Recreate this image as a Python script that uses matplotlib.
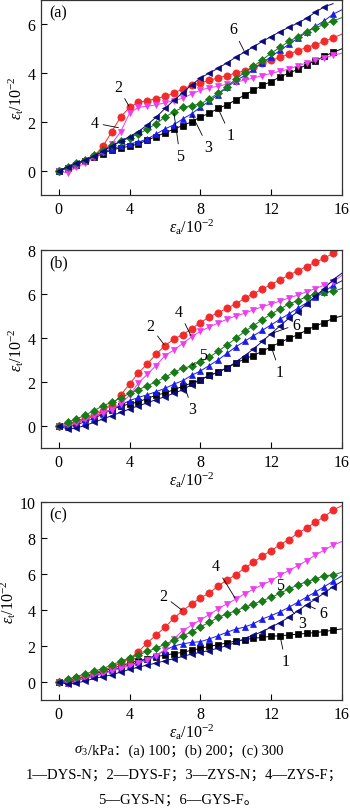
import numpy as np
import matplotlib
matplotlib.use('Agg')
import matplotlib.pyplot as plt

plt.rcParams['font.family'] = ['Liberation Serif', 'Noto Sans CJK SC']
plt.rcParams['mathtext.fontset'] = 'custom'
plt.rcParams['mathtext.rm'] = 'Liberation Serif'
plt.rcParams['mathtext.it'] = 'Liberation Serif:italic'

# axial strain, one reading every 0.5 (x 10^-2)
x = np.arange(0, 16.5, 0.5)

# (a) sigma3 = 100 kPa
a_dys_n = [0, 0.1, 0.25, 0.4, 0.55, 0.7, 0.85, 0.93, 1.0, 1.1, 1.25, 1.4, 1.55, 1.7, 1.85, 2.0, 2.2,
           2.35, 2.55, 2.7, 2.9, 3.1, 3.3, 3.5, 3.65, 3.85, 4.0, 4.15, 4.35, 4.5, 4.7, 4.85, 5.0]
a_dys_f = [0, 0.1, 0.25, 0.4, 0.6, 1.0, 1.6, 2.2, 2.6, 2.8, 2.87, 2.95, 3.05, 3.17, 3.35, 3.5, 3.6,
           3.7, 3.8, 3.9, 4.0, 4.1, 4.25, 4.4, 4.52, 4.65, 4.78, 4.92, 5.05, 5.17, 5.3, 5.45, 5.6]
a_zys_n = [0, 0.1, 0.25, 0.42, 0.6, 0.75, 0.9, 1.0, 1.1, 1.17, 1.3, 1.5, 1.71, 1.88, 2.12, 2.33, 2.6,
           2.85, 3.12, 3.42, 3.69, 3.9, 4.15, 4.42, 4.68, 4.93, 5.18, 5.43, 5.68, 5.92, 6.15, 6.42, 6.6]
a_zys_f = [0, -0.1, 0.15, 0.3, 0.55, 0.75, 1.1, 1.6, 2.35, 2.6, 2.64, 2.7, 2.78, 2.87, 2.97, 3.14, 3.3,
           3.4, 3.46, 3.55, 3.62, 3.72, 3.8, 3.9, 3.99, 4.08, 4.16, 4.3, 4.42, 4.52, 4.63, 4.73, 4.82]
a_gys_n = [0, 0.15, 0.3, 0.45, 0.65, 0.85, 1.05, 1.2, 1.35, 1.5, 1.7, 1.92, 2.2, 2.4, 2.6, 2.67, 2.73,
           2.94, 3.17, 3.44, 3.76, 4.02, 4.28, 4.55, 4.82, 5.06, 5.3, 5.5, 5.7, 5.86, 6.0, 6.14, 6.28]
a_gys_f = [0, 0.15, 0.3, 0.45, 0.6, 0.8, 1.0, 1.2, 1.4, 1.6, 1.88, 2.19, 2.55, 2.88, 3.2, 3.51, 3.8,
           4.0, 4.2, 4.42, 4.65, 4.87, 5.08, 5.3, 5.5, 5.7, 5.88, 6.05, 6.25, 6.5, 6.72, 6.85]

# (b) sigma3 = 200 kPa
b_dys_n = [0, 0.05, 0.15, 0.3, 0.45, 0.6, 0.75, 0.9, 1.0, 1.1, 1.25, 1.4, 1.5, 1.65, 1.8, 1.95, 2.1,
           2.3, 2.45, 2.65, 2.85, 3.05, 3.2, 3.4, 3.6, 3.8, 3.98, 4.15, 4.35, 4.55, 4.7, 4.9, 5.0]
b_dys_f = [0, 0.05, 0.2, 0.35, 0.5, 0.7, 0.95, 1.4, 1.91, 2.41, 2.82, 3.27, 3.65, 3.95, 4.15, 4.42, 4.7,
           4.95, 5.15, 5.35, 5.55, 5.8, 6.02, 6.22, 6.43, 6.65, 6.86, 7.05, 7.25, 7.45, 7.62, 7.86, 8.05]
b_zys_n = [0, -0.05, 0.05, 0.2, 0.35, 0.55, 0.75, 0.95, 1.15, 1.3, 1.42, 1.56, 1.71, 1.9, 2.06, 2.3, 2.5,
           2.75, 3.0, 3.3, 3.6, 3.85, 4.1, 4.35, 4.6, 4.85, 5.1, 5.35, 5.6, 5.85, 6.1, 6.4, 6.6]
b_zys_f = [0, 0.05, 0.15, 0.3, 0.45, 0.6, 0.75, 1.0, 1.4, 1.95, 2.35, 2.75, 3.2, 3.45, 3.75, 4.05, 4.3,
           4.5, 4.68, 4.85, 5.0, 5.12, 5.28, 5.42, 5.55, 5.68, 5.82, 5.95, 6.1, 6.25, 6.4, 6.55, 6.85]
b_gys_n = [0, 0.17, 0.32, 0.5, 0.7, 0.92, 1.08, 1.27, 1.48, 1.65, 1.83, 2.01, 2.21, 2.44, 2.62, 2.72, 2.92,
           3.12, 3.4, 3.68, 3.98, 4.3, 4.56, 4.83, 5.09, 5.32, 5.55, 5.7, 5.88, 6.0, 6.08, 6.12, 6.25]
b_gys_f = [0, -0.14, -0.09, 0.02, 0.17, 0.32, 0.47, 0.62, 0.77, 0.92, 1.05, 1.2, 1.33, 1.49, 1.64, 1.88, 2.1,
           2.29, 2.44, 2.64, 2.9, 3.2, 3.5, 3.85, 4.2, 4.55, 4.9, 5.2, 5.55, 5.9, 6.25, 6.65, 6.95]

# (c) sigma3 = 300 kPa
c_dys_n = [0, 0.05, 0.15, 0.3, 0.45, 0.6, 0.75, 0.9, 1.05, 1.19, 1.28, 1.4, 1.5, 1.57, 1.65, 1.76, 1.87,
           1.98, 2.07, 2.17, 2.28, 2.35, 2.43, 2.48, 2.54, 2.57, 2.61, 2.66, 2.7, 2.75, 2.8, 2.88, 2.95]
c_dys_f = [0, 0.05, 0.2, 0.35, 0.5, 0.65, 0.85, 1.05, 1.3, 1.69, 2.17, 2.61, 3.04, 3.54, 3.96, 4.33, 4.67,
           4.94, 5.33, 5.67, 5.96, 6.33, 6.65, 7.0, 7.3, 7.63, 7.91, 8.26, 8.56, 8.87, 9.19, 9.55, 9.8]
c_zys_n = [0, -0.05, 0.08, 0.2, 0.35, 0.5, 0.65, 0.8, 0.95, 1.1, 1.3, 1.5, 1.75, 2.0, 2.12, 2.2, 2.24,
           2.39, 2.57, 2.76, 2.94, 3.05, 3.24, 3.5, 3.69, 3.9, 4.15, 4.43, 4.72, 5.0, 5.3, 5.6, 5.9]
c_zys_f = [0, -0.1, 0.05, 0.2, 0.3, 0.45, 0.6, 0.75, 0.9, 1.05, 1.2, 1.45, 1.8, 2.4, 2.85, 3.15, 3.45,
           3.75, 4.05, 4.35, 4.6, 4.9, 5.15, 5.4, 5.63, 5.94, 6.19, 6.46, 6.74, 7.06, 7.33, 7.61, 7.8]
c_gys_n = [0, 0.15, 0.3, 0.45, 0.6, 0.75, 0.95, 1.15, 1.35, 1.5, 1.7, 1.88, 2.1, 2.31, 2.55, 2.8, 3.07,
           3.31, 3.59, 3.78, 3.96, 4.15, 4.33, 4.52, 4.7, 4.93, 5.17, 5.39, 5.57, 5.72, 5.91, 5.94, 6.1]
c_gys_f = [0, -0.12, -0.05, 0.05, 0.2, 0.3, 0.4, 0.55, 0.7, 0.82, 0.94, 1.05, 1.18, 1.3, 1.42, 1.55, 1.65,
           1.75, 1.88, 2.02, 2.2, 2.4, 2.6, 2.8, 3.05, 3.3, 3.6, 3.95, 4.3, 4.6, 4.95, 5.3, 5.6]

colors = ['#000000', '#f22a2a', '#1a1aee', '#ee3cee', '#1a7a1a', '#0a0a80']
markers = ['s', 'o', '^', 'v', 'D', '<']
sizes = [4.6, 5.2, 5.0, 5.0, 4.2, 5.0]

# curve labels: (text, text position, point)
notes_a = [('6', (9.85, 5.8), (10.5, 4.87)), ('2', (3.35, 3.45), (4.0, 2.6)),
           ('4', (2.05, 1.95), (3.45, 1.75)), ('5', (6.85, 0.6), (6.5, 2.4)),
           ('3', (8.45, 0.95), (7.5, 2.33)), ('1', (9.7, 1.45), (9.0, 2.55))]
notes_b = [('2', (5.15, 4.55), (6.0, 3.65)), ('4', (6.8, 5.2), (7.5, 4.05)),
           ('5', (8.15, 3.25), (7.5, 2.72)), ('6', (13.4, 4.6), (12.0, 4.2)),
           ('1', (12.5, 2.45), (12.0, 3.6)), ('3', (7.55, 0.75), (7.0, 2.06))]
notes_c = [('2', (5.9, 4.8), (7.0, 3.96)), ('4', (8.85, 6.45), (10.0, 4.6)),
           ('5', (12.5, 5.4), (12.0, 4.7)), ('3', (13.75, 3.3), (13.0, 4.15)),
           ('6', (14.95, 3.85), (14.0, 4.3)), ('1', (12.8, 1.15), (12.5, 2.57))]


def draw_panel(ax, series, ymax, tag, notes):
    for y, c, m, s in zip(series, colors, markers, sizes):
        n = len(y)
        ax.plot(x[:n], y, color=c, lw=0.7, marker=m, ms=s, mfc=c, mec=c, mew=0.5,
                markevery=list(range(n - 1)))
    ax.set_xlim(-1, 16)
    ax.set_ylim(-1, ymax)
    ax.set_xticks([0, 4, 8, 12, 16])
    ax.set_yticks(np.arange(0, ymax + 0.1, 2))
    ax.tick_params(direction='in', length=4, width=0.8, labelsize=11.5, pad=4)
    for sp in ax.spines.values():
        sp.set_linewidth(0.9)
        sp.set_color('#333333')
    ax.set_xlabel(r'$\varepsilon_{\rm a}/10^{-2}$', fontsize=11.5, labelpad=0)
    ax.set_ylabel(r'$\varepsilon_{\rm t}/10^{-2}$', fontsize=11.5, labelpad=1)
    ax.text(0.028, 0.935, tag, transform=ax.transAxes, fontsize=11.5, va='center', ha='left')
    for t, xy_t, xy in notes:
        ax.annotate(t, xy=xy, xytext=xy_t, fontsize=11.5, ha='center', va='center',
                    arrowprops=dict(arrowstyle='-', lw=0.6, color='k', shrinkA=1, shrinkB=1))


fig = plt.figure(figsize=(3.5, 8.12), dpi=100)
W, H = 350, 812
ax_a = fig.add_axes([41 / W, 1 - 196 / H, 301 / W, 195 / H])
ax_b = fig.add_axes([41 / W, 1 - 449 / H, 301 / W, 198 / H])
ax_c = fig.add_axes([41 / W, 1 - 701 / H, 301 / W, 198 / H])

draw_panel(ax_a, [a_dys_n, a_dys_f, a_zys_n, a_zys_f, a_gys_n, a_gys_f], 7, '(a)', notes_a)
draw_panel(ax_b, [b_dys_n, b_dys_f, b_zys_n, b_zys_f, b_gys_n, b_gys_f], 8, '(b)', notes_b)
draw_panel(ax_c, [c_dys_n, c_dys_f, c_zys_n, c_zys_f, c_gys_n, c_gys_f], 10, '(c)', notes_c)

# caption under the figure
fs = 10.5
fig.text(88 / W, 1 - 751 / H, r'$\sigma_3$', ha='right', va='center', fontsize=fs)
fig.text(88 / W, 1 - 751 / H, '/kPa：(a) 100；(b) 200；(c) 300', ha='left', va='center', fontsize=fs)
fig.text(0.527, 1 - 775 / H, '1—DYS-N；2—DYS-F；3—ZYS-N；4—ZYS-F；', ha='center', va='center', fontsize=fs)
fig.text(0.509, 1 - 800 / H, '5—GYS-N；6—GYS-F。', ha='center', va='center', fontsize=fs)

fig.savefig('out.png', dpi=100)
